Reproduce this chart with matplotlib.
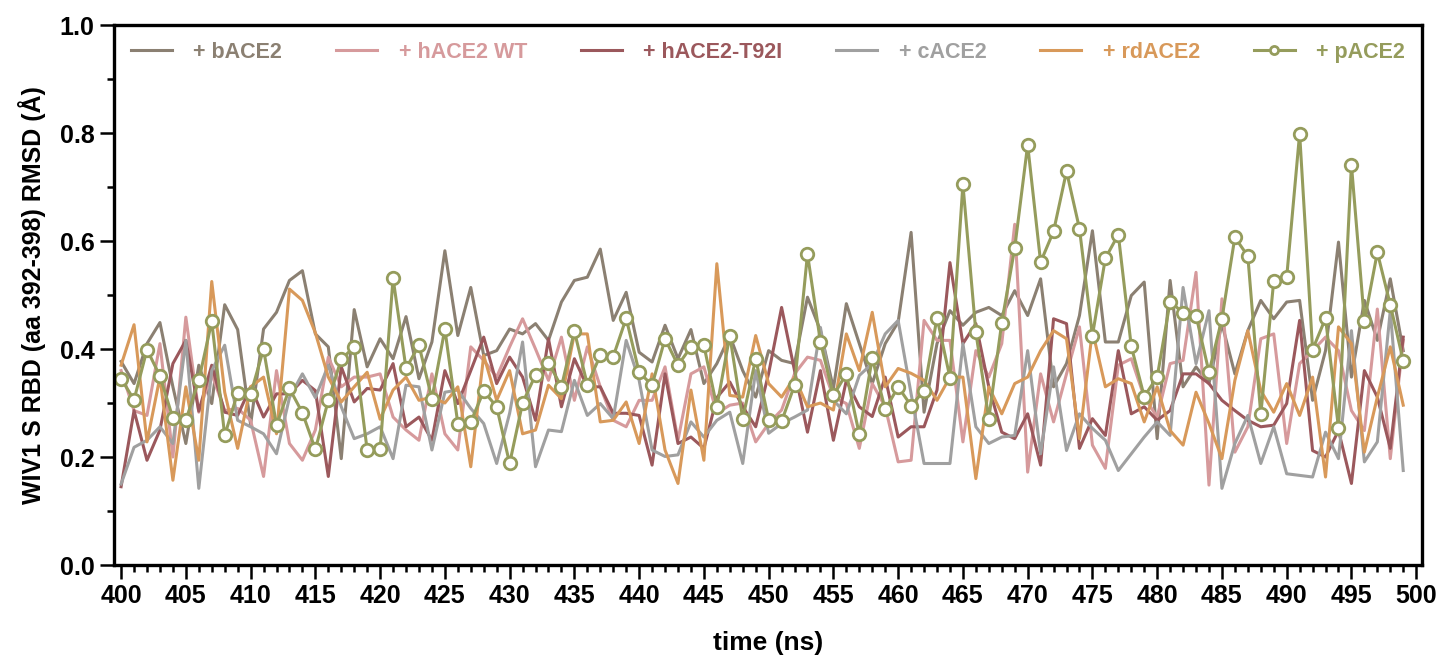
import numpy as np
import matplotlib.pyplot as plt
from matplotlib.ticker import MultipleLocator

plt.rcParams['font.family'] = ['Liberation Sans', 'DejaVu Sans']
plt.rcParams['font.weight'] = 'bold'

time = np.arange(400, 500)

bACE2 = [0.377, 0.336, 0.410, 0.449, 0.330, 0.225, 0.370, 0.299, 0.482, 0.436,
         0.260, 0.437, 0.468, 0.527, 0.545, 0.428, 0.404, 0.197, 0.473, 0.367,
         0.419, 0.382, 0.460, 0.345, 0.413, 0.582, 0.425, 0.514, 0.388, 0.397,
         0.437, 0.428, 0.447, 0.416, 0.487, 0.527, 0.533, 0.585, 0.453, 0.505,
         0.394, 0.376, 0.444, 0.382, 0.436, 0.336, 0.373, 0.425, 0.360, 0.311,
         0.397, 0.379, 0.373, 0.496, 0.434, 0.327, 0.484, 0.410, 0.336, 0.410,
         0.450, 0.616, 0.283, 0.410, 0.471, 0.444, 0.468, 0.477, 0.462, 0.508,
         0.462, 0.530, 0.330, 0.373, 0.462, 0.619, 0.413, 0.413, 0.499, 0.524,
         0.234, 0.527, 0.330, 0.367, 0.336, 0.447, 0.354, 0.434, 0.490, 0.456,
         0.487, 0.490, 0.305, 0.397, 0.598, 0.348, 0.490, 0.416, 0.530, 0.397]

hACE2_WT = [0.360, 0.286, 0.277, 0.410, 0.200, 0.459, 0.283, 0.354, 0.286, 0.290,
            0.268, 0.164, 0.360, 0.225, 0.194, 0.250, 0.385, 0.330, 0.348, 0.348,
            0.354, 0.274, 0.250, 0.231, 0.354, 0.243, 0.213, 0.404, 0.379, 0.348,
            0.404, 0.456, 0.400, 0.342, 0.422, 0.305, 0.404, 0.330, 0.268, 0.256,
            0.305, 0.305, 0.367, 0.231, 0.354, 0.367, 0.281, 0.296, 0.300, 0.228,
            0.262, 0.287, 0.354, 0.385, 0.379, 0.311, 0.299, 0.216, 0.336, 0.293,
            0.191, 0.194, 0.453, 0.416, 0.416, 0.228, 0.397, 0.348, 0.410, 0.631,
            0.172, 0.354, 0.265, 0.354, 0.441, 0.222, 0.179, 0.370, 0.382, 0.311,
            0.274, 0.373, 0.379, 0.542, 0.148, 0.493, 0.209, 0.256, 0.419, 0.428,
            0.225, 0.373, 0.397, 0.422, 0.397, 0.286, 0.249, 0.474, 0.197, 0.416]

hACE2_T92I = [0.145, 0.286, 0.194, 0.250, 0.373, 0.416, 0.285, 0.370, 0.283, 0.277,
              0.330, 0.274, 0.317, 0.317, 0.342, 0.323, 0.164, 0.367, 0.302, 0.327,
              0.324, 0.373, 0.256, 0.274, 0.231, 0.360, 0.299, 0.360, 0.422, 0.336,
              0.385, 0.348, 0.268, 0.419, 0.293, 0.382, 0.330, 0.330, 0.281, 0.281,
              0.277, 0.185, 0.354, 0.225, 0.237, 0.216, 0.310, 0.339, 0.293, 0.256,
              0.355, 0.477, 0.360, 0.246, 0.360, 0.231, 0.342, 0.293, 0.275, 0.348,
              0.237, 0.256, 0.256, 0.324, 0.560, 0.410, 0.447, 0.330, 0.246, 0.234,
              0.280, 0.185, 0.456, 0.447, 0.216, 0.271, 0.240, 0.397, 0.280, 0.293,
              0.268, 0.286, 0.354, 0.354, 0.336, 0.305, 0.286, 0.268, 0.256, 0.259,
              0.299, 0.453, 0.212, 0.200, 0.249, 0.151, 0.360, 0.311, 0.216, 0.422]

cACE2 = [0.150, 0.218, 0.231, 0.256, 0.225, 0.416, 0.142, 0.360, 0.407, 0.268,
         0.256, 0.243, 0.206, 0.310, 0.354, 0.310, 0.370, 0.293, 0.234, 0.243,
         0.256, 0.197, 0.333, 0.330, 0.213, 0.320, 0.324, 0.290, 0.262, 0.188,
         0.281, 0.413, 0.182, 0.250, 0.247, 0.342, 0.277, 0.299, 0.271, 0.416,
         0.342, 0.213, 0.201, 0.204, 0.265, 0.237, 0.268, 0.283, 0.188, 0.360,
         0.244, 0.262, 0.274, 0.287, 0.440, 0.305, 0.280, 0.351, 0.373, 0.428,
         0.453, 0.317, 0.188, 0.188, 0.188, 0.410, 0.256, 0.225, 0.237, 0.240,
         0.397, 0.206, 0.367, 0.212, 0.280, 0.253, 0.231, 0.175, 0.206, 0.237,
         0.265, 0.240, 0.514, 0.373, 0.471, 0.142, 0.225, 0.277, 0.188, 0.256,
         0.169, 0.166, 0.163, 0.246, 0.197, 0.434, 0.191, 0.228, 0.471, 0.175]

rdACE2 = [0.370, 0.445, 0.228, 0.348, 0.157, 0.330, 0.194, 0.525, 0.320, 0.216,
          0.330, 0.348, 0.243, 0.511, 0.490, 0.430, 0.348, 0.302, 0.330, 0.357,
          0.270, 0.324, 0.348, 0.305, 0.311, 0.300, 0.330, 0.182, 0.388, 0.305,
          0.360, 0.243, 0.250, 0.333, 0.308, 0.428, 0.428, 0.265, 0.268, 0.302,
          0.225, 0.354, 0.213, 0.151, 0.324, 0.194, 0.558, 0.314, 0.311, 0.425,
          0.336, 0.311, 0.348, 0.293, 0.300, 0.287, 0.428, 0.360, 0.468, 0.330,
          0.364, 0.355, 0.342, 0.305, 0.348, 0.348, 0.160, 0.330, 0.280, 0.336,
          0.348, 0.397, 0.434, 0.419, 0.234, 0.434, 0.330, 0.345, 0.336, 0.265,
          0.330, 0.249, 0.222, 0.320, 0.262, 0.197, 0.342, 0.434, 0.323, 0.283,
          0.336, 0.277, 0.348, 0.163, 0.441, 0.410, 0.209, 0.311, 0.404, 0.296]

pACE2 = [0.345, 0.306, 0.399, 0.350, 0.272, 0.268, 0.342, 0.451, 0.240, 0.319,
         0.316, 0.400, 0.259, 0.327, 0.282, 0.214, 0.305, 0.381, 0.404, 0.213,
         0.214, 0.531, 0.364, 0.407, 0.308, 0.437, 0.262, 0.265, 0.322, 0.293,
         0.188, 0.300, 0.352, 0.375, 0.330, 0.433, 0.334, 0.388, 0.386, 0.457,
         0.357, 0.333, 0.419, 0.370, 0.404, 0.407, 0.293, 0.425, 0.271, 0.382,
         0.269, 0.266, 0.333, 0.576, 0.413, 0.314, 0.354, 0.242, 0.383, 0.288,
         0.330, 0.295, 0.323, 0.458, 0.347, 0.705, 0.431, 0.271, 0.449, 0.587,
         0.778, 0.561, 0.618, 0.729, 0.623, 0.425, 0.568, 0.612, 0.405, 0.312,
         0.348, 0.488, 0.467, 0.462, 0.357, 0.456, 0.607, 0.572, 0.279, 0.526,
         0.533, 0.799, 0.399, 0.457, 0.254, 0.741, 0.452, 0.579, 0.482, 0.378]

names = ['+ bACE2', '+ hACE2 WT', '+ hACE2-T92I', '+ cACE2', '+ rdACE2', '+ pACE2']
colors = ['#8b8072', '#d69a9c', '#9b585c', '#a0a0a0', '#d8995a', '#959c5c']
series = [bACE2, hACE2_WT, hACE2_T92I, cACE2, rdACE2]

fig = plt.figure(figsize=(14.39, 6.62), dpi=100)
ax = fig.add_axes([0.0792, 0.1465, 0.909, 0.8157])

for s, name, c in zip(series, names[:5], colors[:5]):
    ax.plot(time, s, color=c, lw=2.2, label=name)
ax.plot(time, pACE2, color=colors[5], lw=2.2, marker='o', ms=9,
        mfc='white', mec=colors[5], mew=2.0, label=names[5])

ax.set_xlim(399.45, 500.45)
ax.set_ylim(0, 1.0)
ax.xaxis.set_major_locator(MultipleLocator(5))
ax.xaxis.set_minor_locator(MultipleLocator(1))
ax.yaxis.set_major_locator(MultipleLocator(0.2))
ax.yaxis.set_minor_locator(MultipleLocator(0.1))
ax.yaxis.set_major_formatter(plt.FormatStrFormatter('%.1f'))

for sp in ax.spines.values():
    sp.set_linewidth(2.4)
ax.tick_params(which='major', length=10, width=1.8, labelsize=18, pad=4)
ax.tick_params(which='minor', length=5, width=1.8)

ax.set_xlabel('time (ns)', fontsize=19, fontweight='bold', labelpad=16)
ax.set_ylabel('WIV1 S RBD (aa 392-398) RMSD (Å)', fontsize=18,
              fontweight='bold', labelpad=10)

leg = ax.legend(loc='upper center', ncol=6, frameon=False, fontsize=15.5,
                handlelength=1.9, columnspacing=2.5, handletextpad=1.0,
                markerscale=0.65, bbox_to_anchor=(0.5, 1.005))
for txt, c in zip(leg.get_texts(), colors):
    txt.set_color(c)

fig.savefig('out.png', dpi=100)
